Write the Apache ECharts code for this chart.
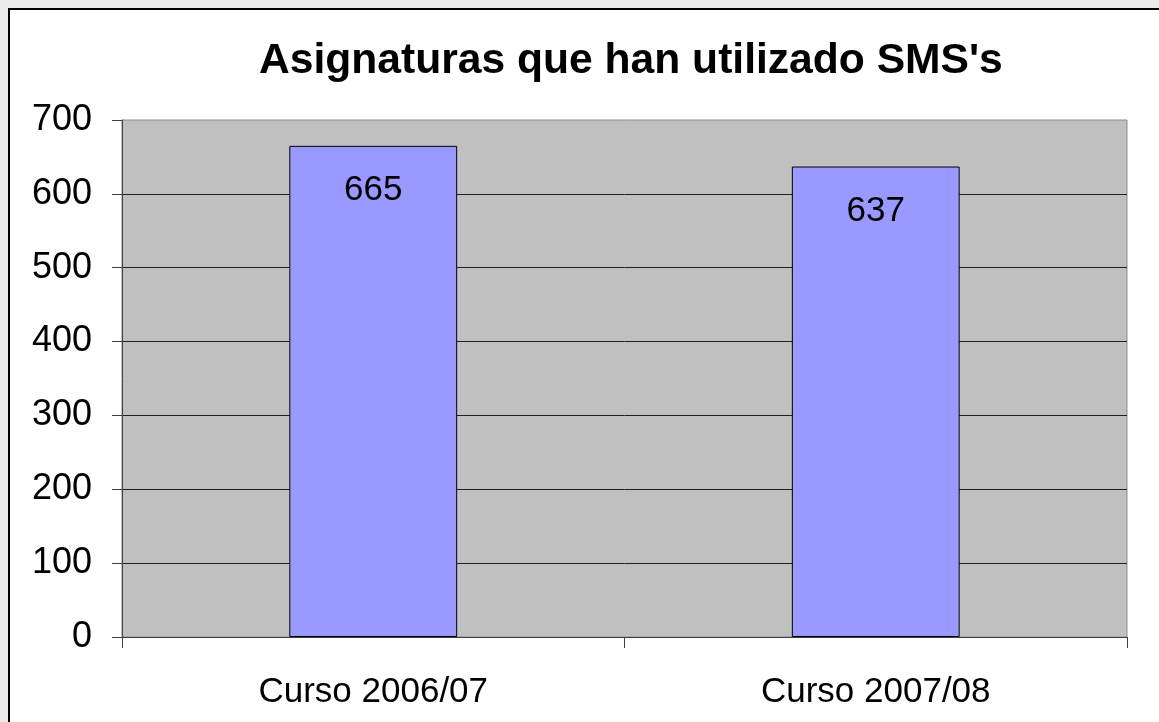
<!DOCTYPE html>
<html>
<head>
<meta charset="utf-8">
<style>
  html, body { margin: 0; padding: 0; background: #ebebeb; }
  #chart { width: 1159px; height: 722px; }
</style>
<script src="https://cdn.jsdelivr.net/npm/echarts@6/dist/echarts.min.js"></script>
</head>
<body>
<div id="chart"></div>
<script>
const titleText = "Asignaturas que han utilizado SMS's";
const categories = ['Curso 2006/07', 'Curso 2007/08'];
const values = [665, 637];

const chart = echarts.init(document.getElementById('chart'));
const FONT = '"Liberation Sans", Arial, sans-serif';

chart.setOption({
  animation: false,
  backgroundColor: '#ebebeb',
  graphic: [
    {
      type: 'rect',
      z: -10,
      shape: { x: 9, y: 9, width: 1170, height: 730 },
      style: { fill: '#ffffff', stroke: '#000000', lineWidth: 2 }
    }
  ],
  title: {
    text: titleText,
    left: 259,
    top: 40,
    padding: 0,
    textStyle: { fontFamily: FONT, fontSize: 42.6, fontWeight: 'bold', color: '#000' }
  },
  grid: {
    left: 122, right: 32, top: 120, bottom: 85,
    show: true,
    backgroundColor: '#c0c0c0',
    borderColor: '#8c8c8c',
    borderWidth: 1
  },
  xAxis: {
    type: 'category',
    data: categories,
    axisLine: { show: true, lineStyle: { color: '#404040', width: 1 } },
    axisTick: { show: true, length: 11, alignWithLabel: false, lineStyle: { color: '#404040' } },
    axisLabel: { margin: 38, fontFamily: FONT, fontSize: 35, color: '#000' },
    splitLine: { show: false }
  },
  yAxis: {
    type: 'value',
    min: 0, max: 700, interval: 100,
    axisLine: { show: true, lineStyle: { color: '#404040', width: 1 } },
    axisTick: { show: true, length: 10, lineStyle: { color: '#404040' } },
    axisLabel: { margin: 30, fontFamily: FONT, fontSize: 36, color: '#000' },
    splitLine: { show: true, showMaxLine: false, lineStyle: { color: '#202020', width: 1 } }
  },
  series: [{
    type: 'bar',
    data: values,
    barWidth: '33.4%',
    itemStyle: { color: '#9999ff', borderColor: '#000', borderWidth: 1 },
    label: {
      show: true,
      position: 'insideTop',
      distance: 27,
      fontFamily: FONT,
      fontSize: 35,
      color: '#000'
    }
  }]
});
</script>
</body>
</html>
